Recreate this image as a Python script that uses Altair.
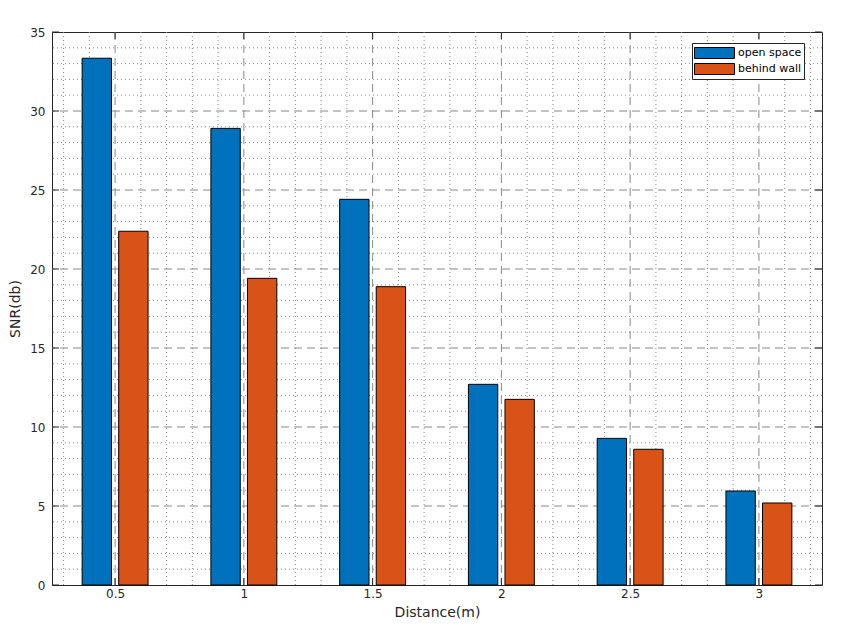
import altair as alt
import pandas as pd

distances = [0.5, 1, 1.5, 2, 2.5, 3]
open_space = [33.34, 28.90, 24.41, 12.70, 9.28, 5.95]
behind_wall = [22.39, 19.41, 18.88, 11.75, 8.59, 5.19]
series = ["open space", "behind wall"]
colors = ["#0072BD", "#D95319"]

x_major = [0.5, 1, 1.5, 2, 2.5, 3]
x_minor = [round(0.3 + 0.1 * i, 1) for i in range(30)]
y_major = [0, 5, 10, 15, 20, 25, 30, 35]
y_minor = list(range(0, 36))

W, H = 770, 553
XDOM = [0.255, 3.245]
YDOM = [0, 35]
OFF = 0.071
HALF = 0.057

rows = []
for d, a, b in zip(distances, open_space, behind_wall):
    rows.append({"d": d, "snr": a, "s": series[0], "off": -OFF})
    rows.append({"d": d, "snr": b, "s": series[1], "off": OFF})
df = pd.DataFrame(rows)

xs = alt.Scale(domain=XDOM, nice=False, zero=False)
ys = alt.Scale(domain=YDOM, nice=False)

xaxis = alt.Axis(values=x_major, title="Distance(m)", ticks=False, domain=False,
                 grid=False, labelPadding=3, titlePadding=6, format="~g")
yaxis = alt.Axis(values=y_major, title="SNR(db)", ticks=False, domain=False,
                 grid=False, labelPadding=7, titlePadding=7)

grid_col = "#888888"

xminor_df = pd.DataFrame({"v": [v for v in x_minor if XDOM[0] < v < XDOM[1] and v not in x_major]})
yminor_df = pd.DataFrame({"v": [v for v in y_minor if v % 5 != 0]})
xmajor_df = pd.DataFrame({"v": x_major})
ymajor_df = pd.DataFrame({"v": [v for v in y_major if 0 < v < 35]})
yticks_df = pd.DataFrame({"v": y_major})

minor_x = alt.Chart(xminor_df).mark_rule(color=grid_col, strokeDash=[1, 3], strokeWidth=1).encode(
    x=alt.X("v:Q", scale=xs, axis=xaxis))
minor_y = alt.Chart(yminor_df).mark_rule(color=grid_col, strokeDash=[1, 3], strokeWidth=1).encode(
    y=alt.Y("v:Q", scale=ys, axis=yaxis))
major_x = alt.Chart(xmajor_df).mark_rule(color=grid_col, strokeDash=[8, 5], strokeWidth=1).encode(
    x=alt.X("v:Q", scale=xs, axis=xaxis))
major_y = alt.Chart(ymajor_df).mark_rule(color=grid_col, strokeDash=[8, 5], strokeWidth=1).encode(
    y=alt.Y("v:Q", scale=ys, axis=yaxis))

tick_col = "#262626"
ytick_l = alt.Chart(yticks_df).mark_rule(color=tick_col).encode(
    y=alt.Y("v:Q", scale=ys, axis=yaxis), x=alt.value(0), x2=alt.value(7))
ytick_r = alt.Chart(yticks_df).mark_rule(color=tick_col).encode(
    y=alt.Y("v:Q", scale=ys, axis=yaxis), x=alt.value(W - 7), x2=alt.value(W))
xtick_b = alt.Chart(xmajor_df).mark_rule(color=tick_col).encode(
    x=alt.X("v:Q", scale=xs, axis=xaxis), y=alt.value(H - 7), y2=alt.value(H))
xtick_t = alt.Chart(xmajor_df).mark_rule(color=tick_col).encode(
    x=alt.X("v:Q", scale=xs, axis=xaxis), y=alt.value(0), y2=alt.value(7))

bars = alt.Chart(df).transform_calculate(
    x1=f"datum.d + datum.off - {HALF}", x2=f"datum.d + datum.off + {HALF}"
).mark_rect(stroke="black", strokeWidth=1).encode(
    x=alt.X("x1:Q", scale=xs, axis=xaxis),
    x2="x2:Q",
    y=alt.Y("snr:Q", scale=ys, axis=yaxis),
    y2=alt.datum(0),
    color=alt.Color("s:N", scale=alt.Scale(domain=series, range=colors),
                    legend=alt.Legend(title=None, orient="none", legendX=640, legendY=11,
                                      symbolType="M-1,-0.733H4.333V0.733H-1Z", symbolSize=225,
                                      symbolStrokeColor="black", symbolStrokeWidth=1,
                                      symbolOpacity=1,
                                      labelFontSize=11, labelColor="#000000",
                                      labelOffset=28, rowPadding=0,
                                      fillColor="white", strokeColor="#262626",
                                      padding=2)),
)

chart = alt.layer(minor_x, minor_y, major_x, major_y, bars,
                  ytick_l, ytick_r, xtick_b, xtick_t).properties(
    width=W, height=H,
    autosize=alt.AutoSizeParams(type="none"),
    padding={"left": 44, "top": 24, "right": 30, "bottom": 40},
    background="white",
).configure_view(stroke=tick_col, strokeWidth=1).configure_axis(
    labelFont="DejaVu Sans", titleFont="DejaVu Sans", labelFontSize=12, titleFontSize=14,
    labelColor=tick_col, titleColor=tick_col, titleFontWeight="normal"
).configure_legend(labelFont="DejaVu Sans")

chart.save("out.html", embed_options={"renderer": "svg", "actions": False})
